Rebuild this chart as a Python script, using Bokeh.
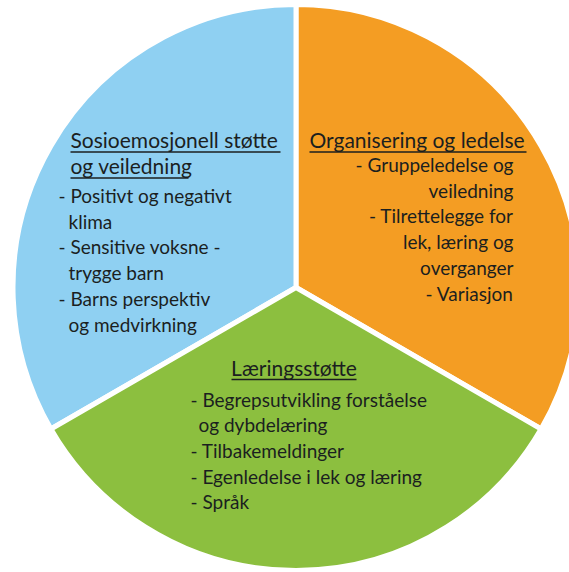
import math
from bokeh.plotting import figure
from bokeh.models import Range1d, ColumnDataSource
from bokeh.core.properties import value
from bokeh.embed import file_html
from bokeh.resources import INLINE

# ---- data ----
categories = ["Organisering og ledelse", "Sosioemosjonell støtte og veiledning", "Læringsstøtte"]
shares = [1, 1, 1]
colors = ["#F49D23", "#8FD0F2", "#8CBF3F"]

blue_title = ["Sosioemosjonell støtte", "og veiledning"]
blue_items = ["- Positivt og negativt", "klima", "- Sensitive voksne -", "trygge barn",
              "- Barns perspektiv", "og medvirkning"]
orange_title = ["Organisering og ledelse"]
orange_items = ["- Gruppeledelse og", "veiledning", "- Tilrettelegge for", "lek, læring og",
                "overganger", "- Variasjon"]
green_title = ["Læringsstøtte"]
green_items = ["- Begrepsutvikling forståelse", "og dybdelæring", "- Tilbakemeldinger",
               "- Egenledelse i lek og læring", "- Språk"]

# ---- layout helpers (reference pixel coords, y flipped) ----
H = 572
def Y(py):
    return H - py

W_FIG, H_FIG = 569, 572
p = figure(width=W_FIG, height=H_FIG, output_backend="svg", toolbar_location=None,
           x_range=Range1d(0, W_FIG), y_range=Range1d(Y(H_FIG), Y(0)),
           min_border=0)
p.axis.visible = False
p.grid.visible = False
p.outline_line_color = None
p.background_fill_color = "white"
p.border_fill_color = "white"

cx, cy, r = 295.5, Y(287), 283
total = sum(shares)
start0 = -math.pi / 6
starts, ends = [], []
acc = start0
for s in shares:
    starts.append(acc)
    acc += 2 * math.pi * s / total
    ends.append(acc)

src = ColumnDataSource(dict(cat=categories, start=starts, end=ends, color=colors))
p.wedge(x=cx, y=cy, radius=r, start_angle="start", end_angle="end", color="color",
        line_color="white", line_width=5, source=src)

FONT = value("Lato")
TXT = "#1b1f1f"
TSHIFT = 8  # baseline compensation

def put(texts, xs, ys, align, fs):
    p.text(x=xs, y=[Y(v - TSHIFT) for v in ys], text=texts, text_align=align,
           text_baseline="alphabetic", text_font=FONT, text_font_size=fs,
           text_color=TXT)

def underline(x0, x1, py):
    p.segment(x0=[x0], y0=[Y(py)], x1=[x1], y1=[Y(py)], line_color=TXT, line_width=1.5)

TFS, IFS = "21px", "19px"
step = 25.7
# blue
put(blue_title, [70, 70], [147, 173], "left", TFS)
underline(70, 280, 151.5)
underline(70, 188, 177.5)
bx = [58 if t.startswith("-") else 68 for t in blue_items]
put(blue_items, bx, [203 + i * step for i in range(len(blue_items))], "left", IFS)

# orange
put(orange_title, [309], [147], "left", TFS)
underline(309, 526, 151.5)
put(orange_items, [513] * len(orange_items),
    [172 + i * step for i in range(len(orange_items))], "right", IFS)

# green
put(green_title, [293.5], [375], "center", TFS)
underline(231, 356, 379)
gx = [190 if t.startswith("-") else 198 for t in green_items]
put(green_items, gx, [406.5 + i * step for i in range(len(green_items))], "left", IFS)

open("out.html", "w").write(file_html(p, INLINE))
